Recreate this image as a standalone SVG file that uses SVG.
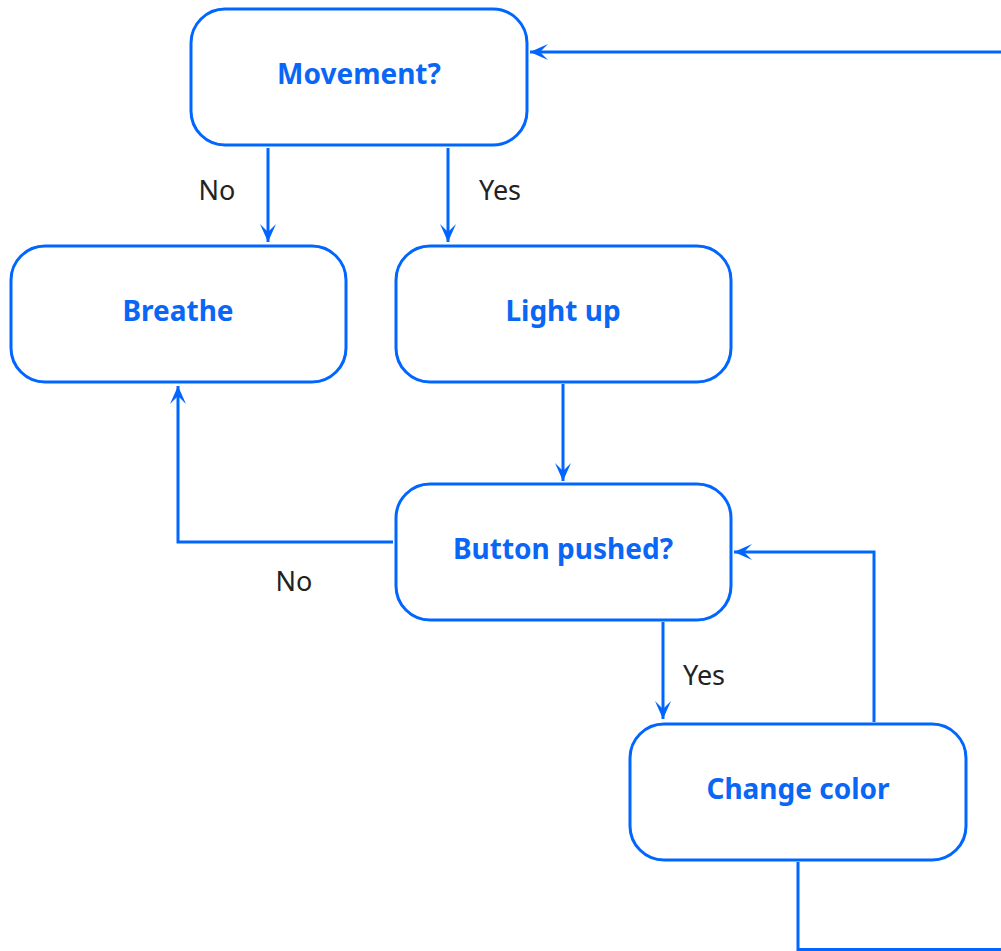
<svg xmlns="http://www.w3.org/2000/svg" width="1001" height="951" viewBox="0 0 1001 951">
<style>
.node rect{fill:#fff;stroke:#0066ff;stroke-width:3}
.node text{fill:#0a66f5;font-family:"Noto Sans","Open Sans",sans-serif;font-weight:700;font-size:28px;text-anchor:middle}
.edge{fill:none;stroke:#0066ff;stroke-width:3}
.lbl{fill:#222;font-family:"Noto Sans","Open Sans",sans-serif;font-size:27px;text-anchor:middle}
</style>
<defs>
<marker id="ah" markerUnits="userSpaceOnUse" markerWidth="22" markerHeight="20" viewBox="-19 -10 21 20" refX="0" refY="0" orient="auto">
<path d="M0,0 L-18,-8 L-10,0 L-18,8 Z" fill="#0066ff"/>
</marker>
</defs>
<g id="connectors">
<path class="edge" d="M268,148 V242" marker-end="url(#ah)"/>
<path class="edge" d="M448,148 V242" marker-end="url(#ah)"/>
<path class="edge" d="M563,384 V481" marker-end="url(#ah)"/>
<path class="edge" d="M393,542 H178 V386" marker-end="url(#ah)"/>
<path class="edge" d="M663,622 V719" marker-end="url(#ah)"/>
<path class="edge" d="M874,722 V552 H734" marker-end="url(#ah)"/>
<path class="edge" d="M798,862 V949.5 H1010"/>
<path class="edge" d="M1010,52 H530" marker-end="url(#ah)"/>
<text class="lbl" x="217" y="200">No</text>
<text class="lbl" x="500" y="200">Yes</text>
<text class="lbl" x="294" y="591">No</text>
<text class="lbl" x="704" y="685">Yes</text>
</g>
<g id="movement" class="node"><rect x="191" y="9" width="336" height="136" rx="34"/><text x="359" y="84">Movement?</text></g>
<g id="breathe" class="node"><rect x="11" y="246" width="335" height="136" rx="34"/><text x="178" y="321">Breathe</text></g>
<g id="lightup" class="node"><rect x="396" y="246" width="335" height="136" rx="34"/><text x="563" y="321">Light up</text></g>
<g id="button" class="node"><rect x="396" y="484" width="335" height="136" rx="34"/><text x="563" y="559">Button pushed?</text></g>
<g id="change" class="node"><rect x="630" y="724" width="336" height="136" rx="34"/><text x="798" y="799">Change color</text></g>
</svg>
